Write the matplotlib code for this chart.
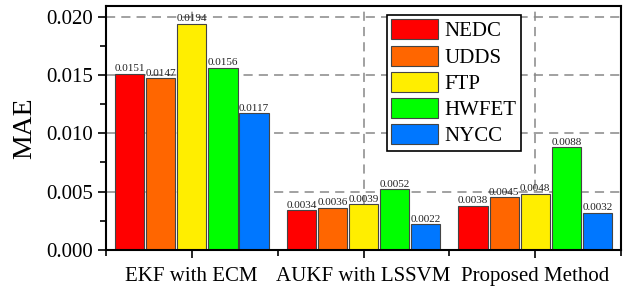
import matplotlib.pyplot as plt
from matplotlib.ticker import MultipleLocator, FixedLocator
import numpy as np

plt.rcParams['font.family'] = ['Liberation Serif', 'DejaVu Serif']

# data
methods = ['EKF with ECM', 'AUKF with LSSVM', 'Proposed Method']
cycles = ['NEDC', 'UDDS', 'FTP', 'HWFET', 'NYCC']
nedc = [0.0151, 0.0034, 0.0038]
udds = [0.0147, 0.0036, 0.0045]
ftp = [0.0194, 0.0039, 0.0048]
hwfet = [0.0156, 0.0052, 0.0088]
nycc = [0.0117, 0.0022, 0.0032]
colors = ['#FF0000', '#FF6600', '#FFEE00', '#00FF00', '#0077FF']

series = [nedc, udds, ftp, hwfet, nycc]

fig = plt.figure(figsize=(6.3, 2.89), dpi=100)
ax = fig.add_axes([0.168, 0.135, 0.818, 0.844])

x = np.arange(len(methods)) + 0.5
pitch = 0.181
w = 0.171
for i, (vals, c, lab) in enumerate(zip(series, colors, cycles)):
    pos = x + (i - 2) * pitch
    bars = ax.bar(pos, vals, w, color=c, edgecolor='#444444', linewidth=0.8,
                  label=lab, zorder=2)
    for b, v in zip(bars, vals):
        ax.text(b.get_x() + b.get_width() / 2, v + 0.00006, '%.4f' % v,
                ha='center', va='bottom', fontsize=8, color='#222222', zorder=3)

ax.set_xlim(0, 3)
ax.set_ylim(0, 0.0209)
ax.set_xticks(x)
ax.set_xticklabels(methods, fontsize=15)
ax.xaxis.set_minor_locator(FixedLocator([0, 1, 2, 3]))
ax.yaxis.set_major_locator(MultipleLocator(0.005))
ax.yaxis.set_minor_locator(MultipleLocator(0.0025))
ax.set_yticklabels(['%.3f' % t for t in ax.get_yticks()], fontsize=15)
ax.set_ylabel('MAE', fontsize=20, labelpad=6)

ax.tick_params(axis='both', which='major', direction='out', length=6, width=1.2)
ax.tick_params(axis='both', which='minor', direction='out', length=4, width=1.2)
ax.tick_params(axis='x', which='major', pad=6)

ax.grid(True, which='major', linestyle=(0, (6, 4)), color='#888888',
        linewidth=1.1, zorder=0)
ax.set_axisbelow(True)
for s in ax.spines.values():
    s.set_linewidth(1.5)

leg = ax.legend(loc='upper left', bbox_to_anchor=(0.546, 0.963), fontsize=15,
                handlelength=2.26, handleheight=1.1, labelspacing=0.2,
                borderpad=0.2, handletextpad=0.3, borderaxespad=0,
                fancybox=False, framealpha=1, edgecolor='black')
leg.get_frame().set_linewidth(1.2)

fig.savefig('out.png', dpi=100)
